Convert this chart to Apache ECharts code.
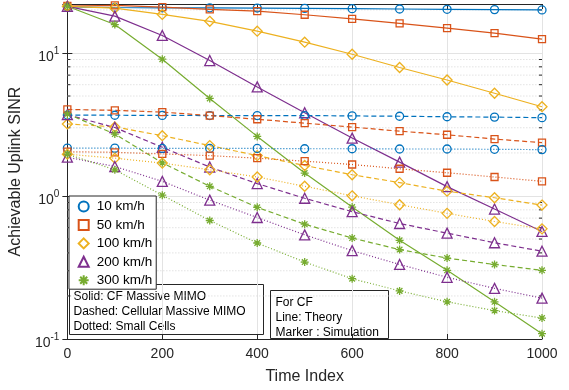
<!DOCTYPE html>
<html>
<head>
<meta charset="utf-8">
<script src="https://cdn.jsdelivr.net/npm/echarts@6/dist/echarts.min.js"></script>
<style>
  html, body { margin: 0; padding: 0; background: #fff; }
  #chart { width: 569px; height: 390px; }
</style>
</head>
<body>
<div id="chart"></div>
<script>
const timeIndex = [0, 100, 200, 300, 400, 500, 600, 700, 800, 900, 1000];
const speeds = ["10 km/h", "50 km/h", "100 km/h", "200 km/h", "300 km/h"];
// minor log ticks / dotted grid lines
const minorTicks = [0.2, 0.3, 0.4, 0.5, 0.6, 0.7, 0.8, 0.9, 2, 3, 4, 5, 6, 7, 8, 9, 20];

// CF massive MIMO (solid)
const cf10 = [21.0, 20.8, 20.7, 20.7, 20.6, 20.5, 20.4, 20.3, 20.2, 20.1, 20.0];
const cf50 = [21.3, 21.5, 20.9, 20.2, 19.6, 18.5, 17.3, 16.1, 14.9, 13.75, 12.5];
const cf100 = [21.2, 20.6, 18.6, 16.65, 14.2, 11.9, 9.79, 7.91, 6.47, 5.23, 4.21];
const cf200 = [21.2, 18.1, 13.26, 8.85, 5.79, 3.82, 2.54, 1.725, 1.163, 0.81, 0.565];
const cf300 = [21.2, 15.8, 9.05, 4.81, 2.61, 1.447, 0.837, 0.49, 0.302, 0.182, 0.109];

// Cellular massive MIMO (dashed)
const cell10 = [3.68, 3.67, 3.66, 3.65, 3.65, 3.65, 3.63, 3.61, 3.58, 3.56, 3.53];
const cell50 = [4.03, 3.97, 3.86, 3.65, 3.44, 3.23, 3.03, 2.84, 2.68, 2.5, 2.36];
const cell100 = [3.19, 3.04, 2.64, 2.25, 1.916, 1.634, 1.408, 1.24, 1.08, 0.972, 0.864];
const cell200 = [3.7, 3.01, 2.19, 1.593, 1.221, 0.964, 0.777, 0.642, 0.55, 0.471, 0.411];
const cell300 = [3.75, 2.71, 1.705, 1.169, 0.833, 0.635, 0.508, 0.422, 0.368, 0.332, 0.302];

// Small cells (dotted)
const sc10 = [2.16, 2.16, 2.15, 2.15, 2.15, 2.14, 2.14, 2.13, 2.13, 2.12, 2.11];
const sc50 = [2.04, 2.02, 1.968, 1.916, 1.838, 1.752, 1.66, 1.55, 1.454, 1.358, 1.266];
const sc100 = [1.96, 1.838, 1.698, 1.525, 1.358, 1.169, 1.003, 0.869, 0.756, 0.663, 0.589];
const sc200 = [1.867, 1.608, 1.266, 0.935, 0.707, 0.535, 0.415, 0.332, 0.27, 0.226, 0.193];
const sc300 = [1.96, 1.525, 1.013, 0.674, 0.469, 0.345, 0.264, 0.217, 0.182, 0.158, 0.14];

const colors = ["#0072BD", "#D95319", "#EDB120", "#7E2F8E", "#77AC30"];
const asterisk = "path://M5,0L5,10M0,5L10,5M1.5,1.5L8.5,8.5M1.5,8.5L8.5,1.5";
const symbols = ["circle", "rect", "diamond", "triangle", asterisk];
const symbolSizes = [8, 7, 10, 10, 8];

const groups = [
    { data: [cf10, cf50, cf100, cf200, cf300], type: "solid", suffix: "" },
    { data: [cell10, cell50, cell100, cell200, cell300], type: [5, 3], suffix: " cellular" },
    { data: [sc10, sc50, sc100, sc200, sc300], type: [1, 2], suffix: " small" }
];

const series = [];

// dotted minor grid + inward minor ticks on both sides
series.push({
    type: "custom",
    name: "minor",
    z: 1,
    silent: true,
    data: minorTicks.map(v => [0, v]),
    renderItem: (params, api) => {
        const v = api.value(1);
        const l = api.coord([0, v]);
        const r = api.coord([1000, v]);
        const tickStyle = { stroke: "#262626", lineWidth: 1 };
        return {
            type: "group",
            children: [
                { type: "line", shape: { x1: l[0], y1: l[1], x2: r[0], y2: r[1] }, style: { stroke: "#d4d4d4", lineWidth: 1, lineDash: [1, 2] } },
                { type: "line", shape: { x1: l[0], y1: l[1], x2: l[0] + 3, y2: l[1] }, style: tickStyle },
                { type: "line", shape: { x1: r[0] - 3, y1: r[1], x2: r[0], y2: r[1] }, style: tickStyle }
            ]
        };
    },
    animation: false
});

groups.forEach(g => {
    g.data.forEach((vals, i) => {
        series.push({
            name: speeds[i] + g.suffix,
            type: "line",
            data: vals.map((v, k) => [timeIndex[k], v]),
            symbol: symbols[i],
            symbolSize: symbolSizes[i],
            showAllSymbol: true,
            lineStyle: { color: colors[i], width: 1.2, type: g.type },
            itemStyle: {
                color: i === 4 ? colors[i] : "rgba(255,255,255,0)",
                borderColor: colors[i],
                borderWidth: 1.3
            },
            emphasis: { disabled: true },
            animation: false
        });
    });
});

const chart = echarts.init(document.getElementById("chart"));
const labelFont = "Liberation Sans, Arial, Helvetica, sans-serif";
chart.setOption({
    animation: false,
    grid: { left: 66, right: 27, top: 4, bottom: 48 },
    legend: {
        orient: "vertical",
        left: 69,
        top: 196,
        data: speeds.map((s, i) => ({ name: s, icon: symbols[i] })),
        itemWidth: 10,
        itemHeight: 10,
        itemGap: 4.4,
        padding: [3.6, 4, 2, 8.7],
        backgroundColor: "#fff",
        borderColor: "#262626",
        borderWidth: 1,
        textStyle: { fontFamily: labelFont, fontSize: 13.5, color: "#000", padding: [0, 0, 0, 3] },
        selectedMode: false,
        z: 10
    },
    xAxis: [
        {
            type: "value",
            min: 0,
            max: 1000,
            interval: 200,
            name: "Time Index",
            nameLocation: "middle",
            nameGap: 30,
            nameTextStyle: { fontFamily: labelFont, fontSize: 16, color: "#262626" },
            axisLine: { lineStyle: { color: "#262626", width: 1 } },
            axisTick: { inside: true, length: 5, lineStyle: { color: "#262626" } },
            axisLabel: { fontFamily: labelFont, fontSize: 14, color: "#262626", margin: 8, formatter: v => String(v) },
            splitLine: { show: true, lineStyle: { color: "#e3e3e3", width: 1 } }
        },
        {
            type: "value",
            position: "top",
            min: 0,
            max: 1000,
            interval: 200,
            axisLine: { show: true, lineStyle: { color: "#262626", width: 1 } },
            axisTick: { inside: true, length: 5, lineStyle: { color: "#262626" } },
            axisLabel: { show: false },
            splitLine: { show: false }
        }
    ],
    yAxis: [
        {
            type: "log",
            logBase: 10,
            min: 0.1,
            max: 22,
            name: "Achievable Uplink SINR",
            nameLocation: "middle",
            nameGap: 36,
            nameTextStyle: { fontFamily: labelFont, fontSize: 16, color: "#262626" },
            axisLine: { show: true, lineStyle: { color: "#262626", width: 1 } },
            axisTick: { show: true, inside: true, length: 5, lineStyle: { color: "#262626" } },
            axisLabel: {
                margin: 8,
                showMaxLabel: false,
                formatter: v => {
                    const e = Math.round(Math.log10(v));
                    return "{b|10}{s|" + e + "}";
                },
                rich: {
                    b: { fontFamily: labelFont, fontSize: 14, color: "#262626", padding: [9, 0, 0, 0] },
                    s: { fontFamily: labelFont, fontSize: 10, color: "#262626", padding: [0, 0, 3, 0] }
                }
            },
            splitLine: { show: true, lineStyle: { color: "#e3e3e3", width: 1 } }
        },
        {
            type: "log",
            logBase: 10,
            min: 0.1,
            max: 22,
            position: "right",
            axisLine: { show: true, lineStyle: { color: "#262626", width: 1 } },
            axisTick: { show: true, inside: true, length: 5, lineStyle: { color: "#262626" } },
            axisLabel: { show: false },
            splitLine: { show: false }
        }
    ],
    graphic: [
        {
            type: "group",
            left: 69,
            top: 284,
            z: 20,
            children: [
                { type: "rect", shape: { x: 0, y: 0, width: 194, height: 50 }, style: { fill: "#fff", stroke: "#262626", lineWidth: 1 } },
                { type: "text", x: 4, y: 12, style: { text: "Solid: CF Massive MIMO", fontFamily: labelFont, fontSize: 12, fill: "#000", verticalAlign: "middle" } },
                { type: "text", x: 4, y: 27.5, style: { text: "Dashed: Cellular Massive MIMO", fontFamily: labelFont, fontSize: 12, fill: "#000", verticalAlign: "middle" } },
                { type: "text", x: 4, y: 42.5, style: { text: "Dotted: Small Cells", fontFamily: labelFont, fontSize: 12, fill: "#000", verticalAlign: "middle" } }
            ]
        },
        {
            type: "group",
            left: 270,
            top: 290,
            z: 20,
            children: [
                { type: "rect", shape: { x: 0, y: 0, width: 118, height: 48 }, style: { fill: "#fff", stroke: "#262626", lineWidth: 1 } },
                { type: "text", x: 5, y: 12, style: { text: "For CF", fontFamily: labelFont, fontSize: 12, fill: "#000", verticalAlign: "middle" } },
                { type: "text", x: 5, y: 27, style: { text: "Line: Theory", fontFamily: labelFont, fontSize: 12, fill: "#000", verticalAlign: "middle" } },
                { type: "text", x: 5, y: 42.5, style: { text: "Marker : Simulation", fontFamily: labelFont, fontSize: 12, fill: "#000", verticalAlign: "middle" } }
            ]
        }
    ],
    series: series
});
</script>
</body>
</html>
